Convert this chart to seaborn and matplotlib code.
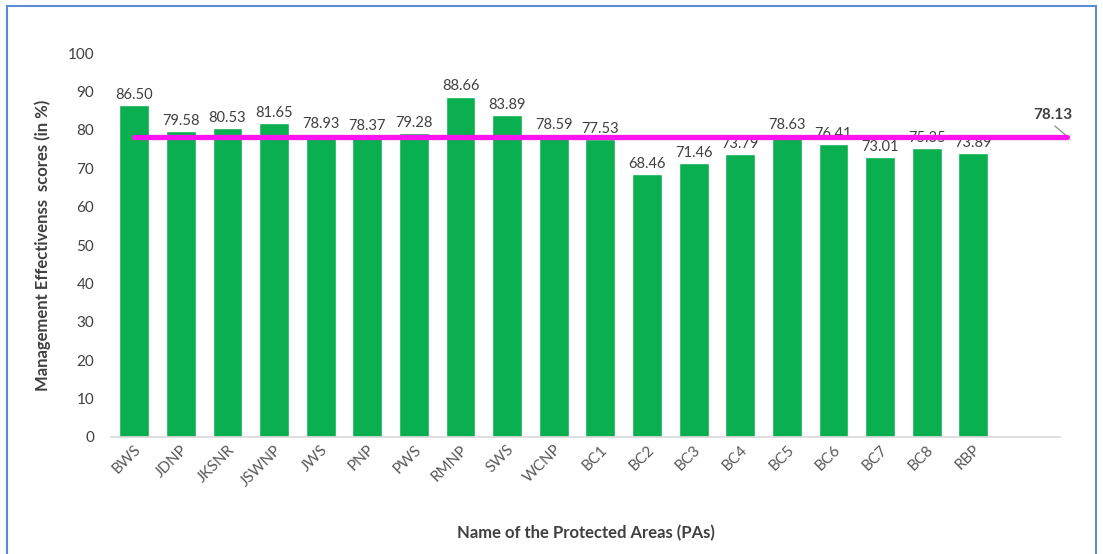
import matplotlib.pyplot as plt
import seaborn as sns
import pandas as pd
from matplotlib.patches import Rectangle

areas = ["BWS", "JDNP", "JKSNR", "JSWNP", "JWS", "PNP", "PWS", "RMNP", "SWS", "WCNP",
         "BC1", "BC2", "BC3", "BC4", "BC5", "BC6", "BC7", "BC8", "RBP"]
scores = [86.50, 79.58, 80.53, 81.65, 78.93, 78.37, 79.28, 88.66, 83.89, 78.59,
          77.53, 68.46, 71.46, 73.79, 78.63, 76.41, 73.01, 75.35, 73.89]
mean_score = 78.13

df = pd.DataFrame({"area": areas, "score": scores})

sns.set_style("white")
plt.rcParams['font.family'] = ['Lato', 'DejaVu Sans']

fig = plt.figure(figsize=(11.03, 5.54), dpi=100)
ax = fig.add_axes([0.1006, 0.2112, 0.8604, 0.6931])

sns.barplot(x="area", y="score", data=df, color="#0AAF4F", width=0.64,
            saturation=1, ax=ax)

for i, v in enumerate(scores):
    ax.text(i, v + 0.8, f"{v:.2f}", ha="center", va="bottom", fontsize=10.5, color="#404040")

# mean line
n = len(areas)
ax.plot([0, n + 1], [mean_score, mean_score], color="#FF14F0", lw=3.8,
        solid_capstyle="round", clip_on=False, zorder=3)
ax.plot([n + 0.75, n + 1], [81, mean_score + 0.3], color="#909090",
        lw=1, clip_on=False)
ax.text(n + 0.7, 82, f"{mean_score:.2f}", ha="center", va="bottom",
        fontsize=11, fontweight="bold", color="#404040")

ax.set_xlim(-0.5, n + 0.86)
ax.set_ylim(0, 100)
ax.set_yticks(range(0, 101, 10))
ax.tick_params(axis="y", length=0, labelsize=11, labelcolor="#404040", pad=12)
ax.tick_params(axis="x", length=0, labelsize=11, labelcolor="#595959", pad=4)
plt.setp(ax.get_xticklabels(), rotation=45, ha="right", va="top", rotation_mode="anchor")

for s in ["top", "right", "left"]:
    ax.spines[s].set_visible(False)
ax.spines["bottom"].set_color("#D9D9D9")
ax.spines["bottom"].set_linewidth(1.2)

ax.set_xlabel("Name of the Protected Areas (PAs)", fontsize=12, fontweight="bold",
              color="#404040", labelpad=26)
ax.set_ylabel("Management Effectivenss  scores (in %)", fontsize=12, fontweight="bold",
              color="#404040", labelpad=12)

fig.patches.append(Rectangle((0.006, -0.05), 0.988, 1.04, transform=fig.transFigure,
                             fill=False, edgecolor="#5B8BD0", lw=1.5))

fig.savefig("out.png", dpi=100)
